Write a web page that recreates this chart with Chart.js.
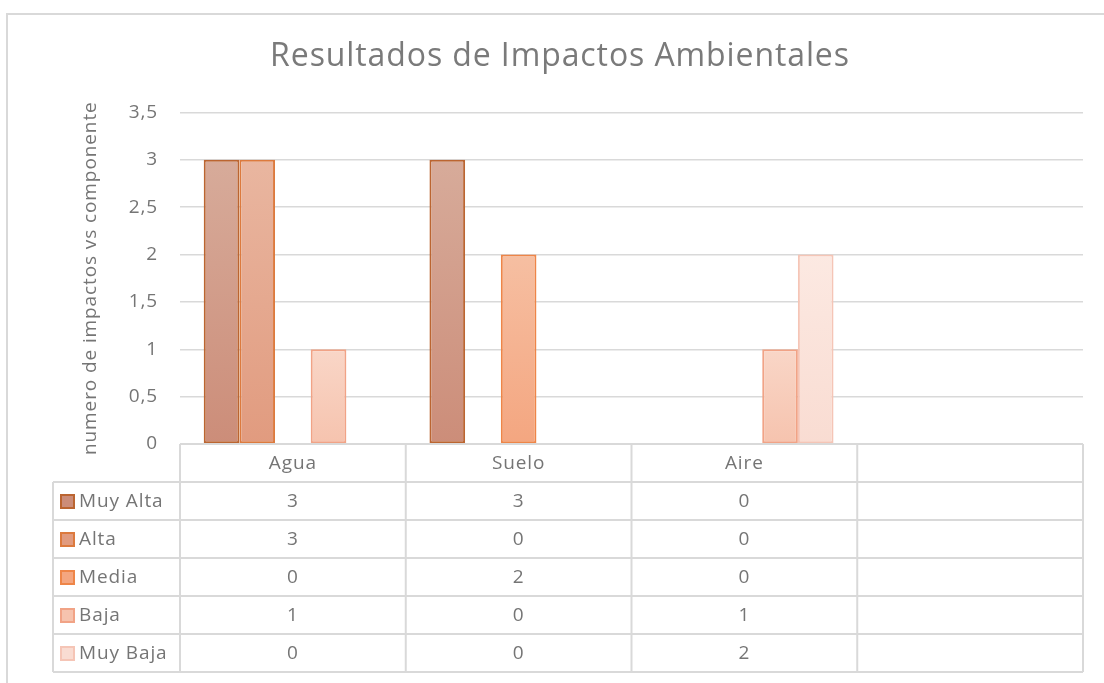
<!DOCTYPE html>
<html>
<head>
<meta charset="utf-8">
<script src="https://cdn.jsdelivr.net/npm/chart.js@4"></script>
<style>
  body { margin: 0; background: #fff; }
</style>
</head>
<body>
<canvas id="impactChart" width="1104" height="683"></canvas>
<script>
// Datos
const categorias = ['Agua', 'Suelo', 'Aire', ''];
const niveles = ['Muy Alta', 'Alta', 'Media', 'Baja', 'Muy Baja'];
const muyAlta = [3, 3, 0, null];
const alta = [3, 0, 0, null];
const media = [0, 2, 0, null];
const baja = [1, 0, 1, null];
const muyBaja = [0, 0, 2, null];
const yTicks = ['0', '0,5', '1', '1,5', '2', '2,5', '3', '3,5'];

// Colores (arriba, abajo, borde)
const colores = [
  ['#d7ab9a', '#cc8d79', '#bb6531'],
  ['#e9b6a0', '#e19b7f', '#dc7a3e'],
  ['#f6bfa2', '#f4a680', '#ee8548'],
  ['#f9d6c7', '#f6c3ae', '#f1a386'],
  ['#fce9e2', '#f9dcd2', '#f5c5b6']
];

const fuente = '"Open Sans", Lato, sans-serif';
const gris = '#757575';
const lineaGris = '#d9d9d9';
const espaciado = '0.9px';

// Relleno degradado por barra
function degradado(i) {
  return (context) => {
    const chart = context.chart;
    const area = chart.chartArea;
    if (!area || context.raw == null) return colores[i][1];
    const y = chart.scales.y;
    const top = y.getPixelForValue(context.raw);
    const bottom = y.getPixelForValue(0);
    if (bottom - top < 1) return colores[i][1];
    const g = chart.ctx.createLinearGradient(0, top, 0, bottom);
    g.addColorStop(0, colores[i][0]);
    g.addColorStop(1, colores[i][1]);
    return g;
  };
}

const series = [muyAlta, alta, media, baja, muyBaja];

// Plugin: marco exterior y tabla de datos
const tablaDatos = {
  id: 'tablaDatos',
  beforeDraw(chart) {
    const ctx = chart.ctx;
    ctx.letterSpacing = espaciado;
    ctx.save();
    ctx.strokeStyle = lineaGris;
    ctx.lineWidth = 2;
    ctx.strokeRect(7, 14, 1200, 800);
    ctx.restore();
  },
  afterDraw(chart) {
    const ctx = chart.ctx;
    const x = chart.scales.x;
    const area = chart.chartArea;
    const anchoCat = (area.right - area.left) / categorias.length;
    const filaAlto = 38;
    const top = area.bottom;
    const bottom = top + filaAlto * (niveles.length + 1);
    const izq = 53;

    ctx.save();
    ctx.strokeStyle = lineaGris;
    ctx.lineWidth = 2;
    ctx.beginPath();
    // lineas horizontales
    ctx.moveTo(area.left, top);
    ctx.lineTo(area.right, top);
    for (let r = 1; r <= niveles.length + 1; r++) {
      const yy = top + filaAlto * r;
      ctx.moveTo(izq, yy);
      ctx.lineTo(area.right, yy);
    }
    // lineas verticales
    ctx.moveTo(izq, top + filaAlto);
    ctx.lineTo(izq, bottom);
    for (let c = 0; c <= categorias.length; c++) {
      const xx = area.left + anchoCat * c;
      ctx.moveTo(xx, top);
      ctx.lineTo(xx, bottom);
    }
    ctx.stroke();

    ctx.font = '19px ' + fuente;
    ctx.fillStyle = gris;
    ctx.textBaseline = 'middle';
    ctx.textAlign = 'center';
    categorias.forEach((cat, c) => {
      ctx.fillText(cat, x.getPixelForValue(c), top + filaAlto / 2 + 1);
    });

    niveles.forEach((nivel, r) => {
      const yc = top + filaAlto * (r + 1) + filaAlto / 2 + 1;
      // cuadro de leyenda
      ctx.fillStyle = colores[r][1];
      ctx.fillRect(61, yc - 7, 13, 13);
      ctx.strokeStyle = colores[r][2];
      ctx.lineWidth = 2;
      ctx.strokeRect(61, yc - 7, 13, 13);
      ctx.fillStyle = gris;
      ctx.textAlign = 'left';
      ctx.fillText(nivel, 79, yc);
      ctx.textAlign = 'center';
      series[r].forEach((v, c) => {
        if (v != null) ctx.fillText(String(v), x.getPixelForValue(c), yc);
      });
    });
    ctx.restore();
  }
};

const ctx = document.getElementById('impactChart').getContext('2d');
const chart = new Chart(ctx, {
  type: 'bar',
  data: {
    labels: categorias,
    datasets: niveles.map((nivel, i) => ({
      label: nivel,
      data: series[i],
      backgroundColor: degradado(i),
      borderColor: colores[i][2],
      borderWidth: 2,
      borderSkipped: false,
      barPercentage: 1,
      categoryPercentage: 0.79
    }))
  },
  options: {
    responsive: false,
    animation: false,
    layout: {
      padding: { left: 37, right: 21, top: 0, bottom: 239 }
    },
    plugins: {
      legend: { display: false },
      tooltip: { enabled: false },
      title: {
        display: true,
        text: 'Resultados de Impactos Ambientales',
        color: '#7a7a7a',
        font: { family: fuente, size: 32, weight: 'normal' },
        padding: { top: 38, bottom: 36 }
      }
    },
    scales: {
      x: {
        display: false
      },
      y: {
        min: 0,
        max: 3.5,
        afterFit: (scale) => { scale.width = 143; },
        ticks: {
          stepSize: 0.5,
          padding: 22,
          color: gris,
          font: { family: fuente, size: 19 },
          callback: (value, index) => yTicks[index]
        },
        grid: {
          color: lineaGris,
          lineWidth: 1.5,
          drawTicks: false
        },
        border: { display: false },
        title: {
          display: true,
          text: 'numero de impactos vs componente',
          color: gris,
          font: { family: fuente, size: 19 },
          padding: { top: 42, bottom: 0 }
        }
      }
    }
  },
  plugins: [tablaDatos]
});
</script>
</body>
</html>
